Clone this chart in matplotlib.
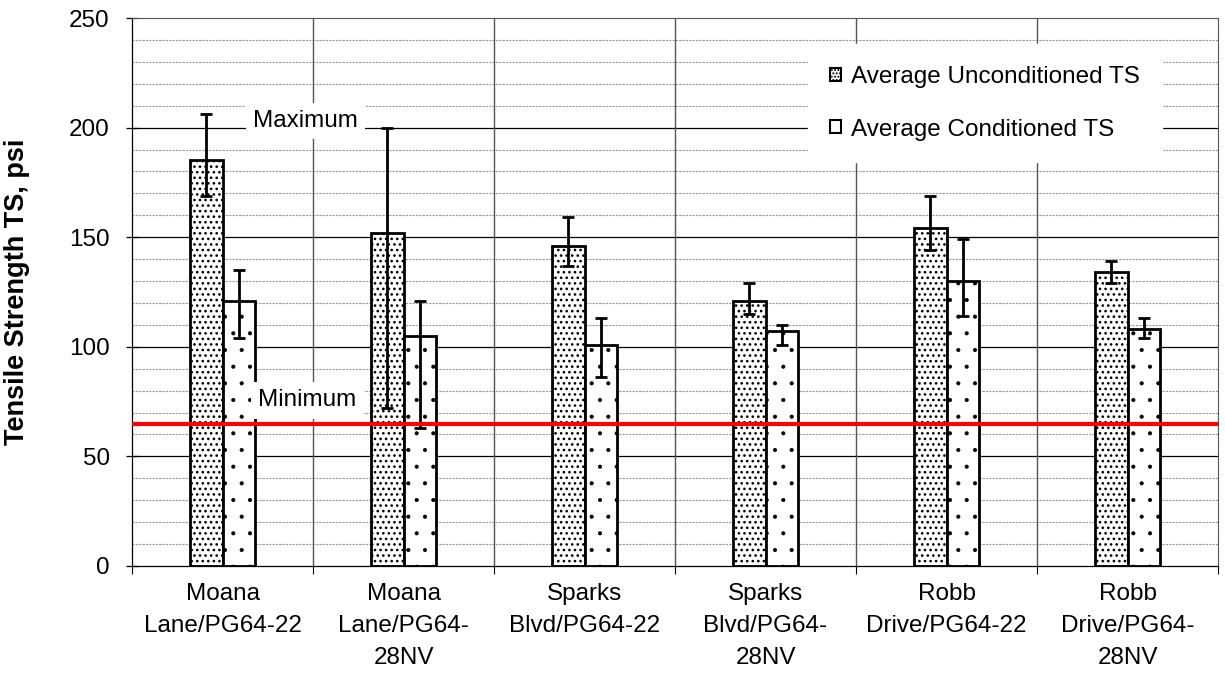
import matplotlib
matplotlib.use('Agg')
import matplotlib.pyplot as plt
from matplotlib.patches import Patch
import numpy as np

# data
categories = ['Moana\nLane/PG64-22', 'Moana\nLane/PG64-\n28NV', 'Sparks\nBlvd/PG64-22',
              'Sparks\nBlvd/PG64-\n28NV', 'Robb\nDrive/PG64-22', 'Robb\nDrive/PG64-\n28NV']
uncond = [185, 152, 146, 121, 154, 134]
uncond_hi = [206, 200, 159, 129, 169, 139]
uncond_lo = [169, 72, 137, 115, 144, 129]
cond = [121, 105, 101, 107, 130, 108]
cond_hi = [135, 121, 113, 110, 149, 113]
cond_lo = [104, 63, 86, 101, 114, 104]
minimum = 65
series_names = ['Average Unconditioned TS', 'Average Conditioned TS']

plt.rcParams['font.family'] = ['Liberation Sans', 'DejaVu Sans']
FS = 17.5

fig = plt.figure(figsize=(12.25, 6.77), dpi=100)
ax = fig.add_axes([0.1078, 0.164, 0.8865, 0.8094])

x = np.arange(len(categories))
w = 0.18

# grid
for v in np.arange(10, 250, 10):
    if v % 50 == 0:
        ax.axhline(v, color='black', lw=0.9, zorder=0)
    else:
        ax.axhline(v, color='#999999', lw=0.8, ls=(0, (2, 1)), zorder=0)
for b in np.arange(0.5, len(categories) - 0.5, 1):
    ax.axvline(b, color='#555555', lw=1.0, zorder=0)

plt.rcParams['hatch.linewidth'] = 1.1
b1 = ax.bar(x - w / 2, uncond, w, color='white', edgecolor='black', lw=2,
            hatch='...', zorder=2)
plt.rcParams['hatch.linewidth'] = 0.5
b2 = ax.bar(x + w / 2, cond, w, color='white', edgecolor='black', lw=2,
            hatch='.', zorder=2)
for p in b1:
    if hasattr(p, 'set_hatch_linewidth'):
        p.set_hatch_linewidth(1.1)
for p in b2:
    if hasattr(p, 'set_hatch_linewidth'):
        p.set_hatch_linewidth(0.5)

u = np.array(uncond)
c = np.array(cond)
ax.errorbar(x - w / 2, u, yerr=[u - np.array(uncond_lo), np.array(uncond_hi) - u],
            fmt='none', ecolor='black', elinewidth=2, capsize=4.5, capthick=2, zorder=3)
ax.errorbar(x + w / 2, c, yerr=[c - np.array(cond_lo), np.array(cond_hi) - c],
            fmt='none', ecolor='black', elinewidth=2, capsize=4.5, capthick=2, zorder=3)

ax.axhline(minimum, color='#ff0000', lw=3, zorder=4)

ax.text(0.46, 203, 'Maximum', fontsize=FS, ha='center', va='center', zorder=5,
        bbox=dict(fc='white', ec='none', pad=5))
ax.text(0.47, 75.5, 'Minimum', fontsize=FS, ha='center', va='center', zorder=5,
        bbox=dict(fc='white', ec='none', pad=5))

ax.set_xlim(-0.5, len(categories) - 0.5)
ax.set_ylim(0, 250)
ax.set_yticks(np.arange(0, 251, 50))
ax.set_xticks(x)
ax.set_xticklabels(categories, fontsize=FS, linespacing=1.6)
ax.set_xticks(np.arange(-0.5, len(categories), 1), minor=True)
ax.tick_params(axis='x', which='major', length=0, pad=12)
ax.tick_params(axis='x', which='minor', length=6, width=0.8, direction='out')
ax.tick_params(axis='y', labelsize=FS, length=8, width=0.9, direction='inout', pad=12)
ax.set_ylabel('Tensile Strength TS, psi', fontsize=19.5, fontweight='bold', labelpad=28)

for s in ['top', 'right']:
    ax.spines[s].set_color('#555555')
    ax.spines[s].set_linewidth(0.8)
ax.spines['left'].set_linewidth(0.9)
ax.spines['bottom'].set_linewidth(0.9)

plt.rcParams['hatch.linewidth'] = 1.0
handles = [Patch(facecolor='white', edgecolor='black', lw=1.5, hatch='.....'),
           Patch(facecolor='white', edgecolor='black', lw=1.5)]
leg = ax.legend(handles, series_names, loc='upper right', bbox_to_anchor=(0.948, 0.952),
                borderaxespad=0, fontsize=FS, frameon=True, fancybox=False, framealpha=1,
                edgecolor='white', handlelength=0.45, handleheight=0.45, handletextpad=0.4,
                labelspacing=1.25, borderpad=0.9)
leg.set_zorder(6)

fig.savefig('out.png', dpi=100)
